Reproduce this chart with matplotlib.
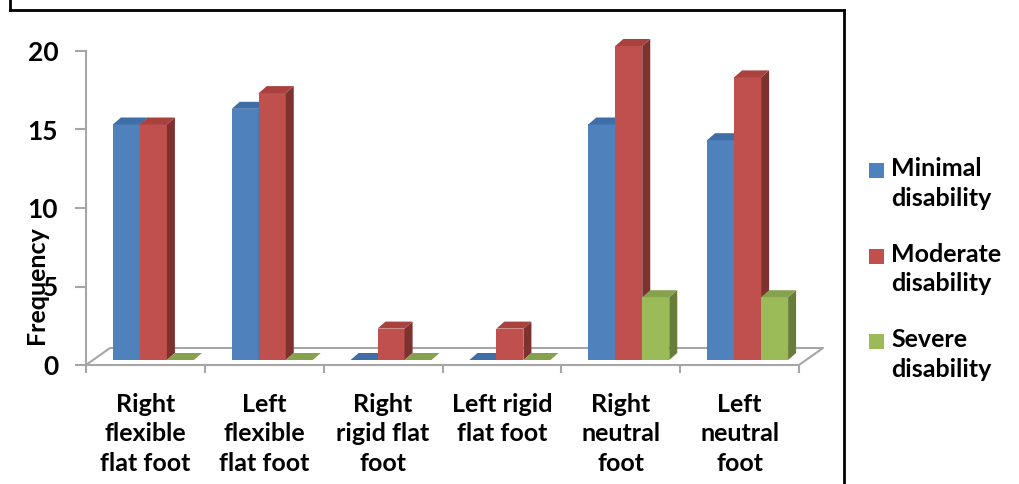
import matplotlib.pyplot as plt
from matplotlib.patches import Polygon, Rectangle
from matplotlib.lines import Line2D

plt.rcParams['font.family'] = ['Lato', 'DejaVu Sans']
plt.rcParams['font.weight'] = 'bold'

categories = ["Right\nflexible\nflat foot", "Left\nflexible\nflat foot", "Right\nrigid flat\nfoot",
              "Left rigid\nflat foot", "Right\nneutral\nfoot", "Left\nneutral\nfoot"]
series = ["Minimal\ndisability", "Moderate\ndisability", "Severe\ndisability"]
minimal = [15, 16, 0, 0, 15, 14]
moderate = [15, 17, 2, 2, 20, 18]
severe = [0, 0, 0, 0, 4, 4]

front_c = ["#4F81BD", "#C0504D", "#9BBB59"]
side_c = ["#385D8A", "#7D3230", "#687D3A"]
top_c = ["#3F6EA6", "#A9423F", "#86A24C"]

W, H = 1019, 484
fig = plt.figure(figsize=(W / 100, H / 100), dpi=100)
ax = fig.add_axes([86 / W, 1 - 365 / H, 713 / W, 314 / H])
ax.set_xlim(-0.5, len(categories) - 0.5)
ax.set_ylim(0, 20)

# pseudo-3D offsets in data units
ux, uy = 713 / 6, 314 / 20
fdx, fdy = 24 / ux, 17 / uy     # floor depth
ox, oy = 8 / ux, 5 / uy         # bar front offset
ddx, ddy = 8 / ux, 7 / uy       # bar depth
bw = 27 / ux

grey = "#A6A6A6"
# floor
ax.add_line(Line2D([-0.5, -0.5 + fdx, 5.5 + fdx, 5.5], [0, fdy, fdy, 0],
                   color=grey, lw=1.5, clip_on=False, zorder=1))

z = 2
for i in range(len(categories)):
    for j, vals in enumerate([minimal, moderate, severe]):
        v = vals[i]
        x0 = i - 1.5 * bw + j * bw + ox
        y0 = oy
        x1, y1 = x0 + bw, y0 + v
        ax.add_patch(Rectangle((x0, y0), bw, v, fc=front_c[j], ec='none', zorder=z, clip_on=False))
        ax.add_patch(Polygon([(x1, y0), (x1 + ddx, y0 + ddy), (x1 + ddx, y1 + ddy), (x1, y1)],
                             fc=side_c[j], ec='none', zorder=z, clip_on=False))
        ax.add_patch(Polygon([(x0, y1), (x0 + ddx, y1 + ddy), (x1 + ddx, y1 + ddy), (x1, y1)],
                             fc=top_c[j], ec='none', zorder=z, clip_on=False))
        z += 1

for s in ["top", "right"]:
    ax.spines[s].set_visible(False)
for s in ["left", "bottom"]:
    ax.spines[s].set_color(grey)
    ax.spines[s].set_linewidth(1.5)
    ax.spines[s].set_zorder(0.5)

ax.set_yticks([0, 5, 10, 15, 20])
ax.tick_params(axis='y', length=8, width=1.5, color=grey, pad=12, labelsize=19)
ax.set_xticks(range(len(categories)))
ax.set_xticklabels(categories, fontsize=18, linespacing=1.35, va='top')
ax.tick_params(axis='x', length=0, pad=20)
ax.set_xticks([k - 0.5 for k in range(len(categories) + 1)], minor=True)
ax.tick_params(axis='x', which='minor', length=6, width=1.5, color=grey)
for t in ax.get_yticklabels() + ax.get_xticklabels():
    t.set_fontweight('bold')

fig.text(37 / W, 1 - 285 / H, "Frequency", rotation=90, ha='center', va='center',
         fontsize=18, fontweight='bold')

# outer border
for xs, ys in [([10, 10], [0, 10]), ([10, 844], [10, 10]), ([844, 844], [10, H])]:
    fig.add_artist(Line2D([x / W for x in xs], [1 - y / H for y in ys], color='black', lw=2))

# legend
for j, name in enumerate(series):
    yb = 178 + j * 85.5
    fig.add_artist(Rectangle((869 / W, 1 - (yb) / H), 15 / W, 15 / H, fc=front_c[j], ec='none'))
    fig.text(891 / W, 1 - (yb - 21) / H, name, ha='left', va='top', fontsize=18,
             fontweight='bold', linespacing=1.35)

fig.savefig("out.png", dpi=100)
